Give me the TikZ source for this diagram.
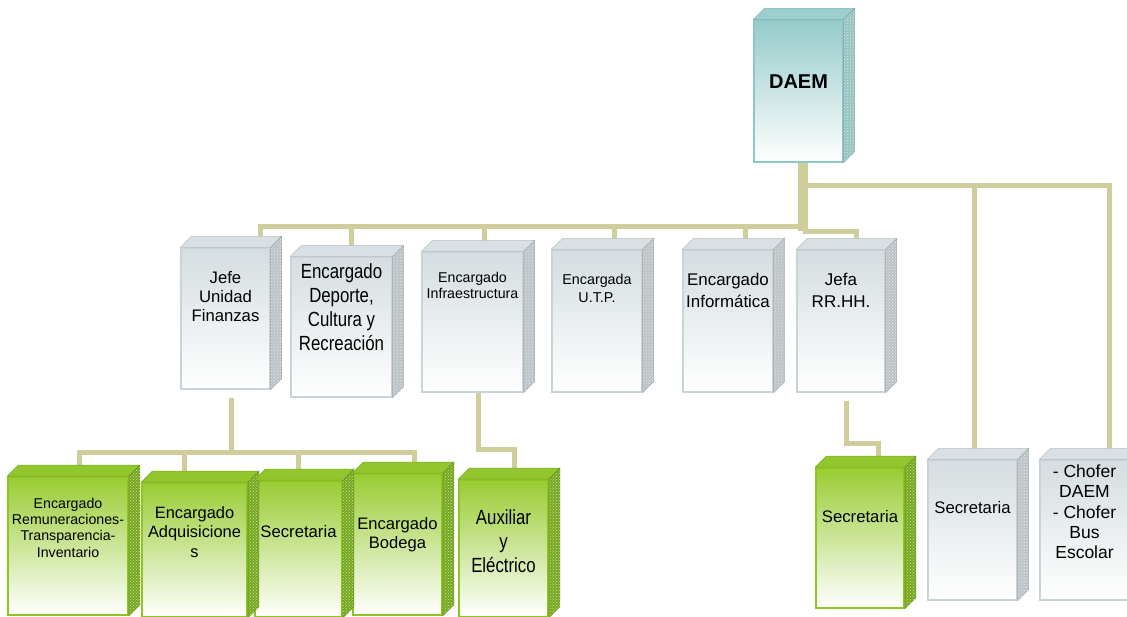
\documentclass[tikz,border=0pt]{standalone}
\usepackage{fontspec}
\setmainfont{Liberation Sans}
\newfontfamily\narrowfont[FakeStretch=0.82]{Liberation Sans}
\usepackage{xcolor}
\usepackage{tikz}
\usetikzlibrary{patterns,backgrounds}

\definecolor{caqui}{RGB}{207,205,155}
\definecolor{grisF}{RGB}{212,221,224}
\definecolor{grisB}{RGB}{200,212,216}
\definecolor{grisT}{RGB}{216,224,227}
\definecolor{grisS}{RGB}{188,195,198}
\definecolor{verdeF}{RGB}{153,204,51}
\definecolor{verdeB}{RGB}{140,198,30}
\definecolor{verdeT}{RGB}{145,198,45}
\definecolor{verdeS}{RGB}{118,168,30}
\definecolor{tealF}{RGB}{148,203,201}
\definecolor{tealB}{RGB}{140,200,200}
\definecolor{tealT}{RGB}{155,208,206}
\definecolor{tealS}{RGB}{150,196,194}

\newcommand{\fsz}[2]{\fontsize{#1}{#2}\selectfont}

\begin{document}
\begin{tikzpicture}[x=1pt,y=-1pt,
		cargo/.style={rectangle, inner sep=0pt, line width=1.2pt},
		cargo gris/.style={cargo, draw=grisB, top color=grisF, bottom color=white},
		cargo verde/.style={cargo, draw=verdeB, line width=1.6pt, top color=verdeF, bottom color=white, middle color=verdeF!50!white},
		cargo jefe/.style={cargo, draw=tealB, top color=tealF, bottom color=white},
		tapa/.style={fill=#1, draw=#1!85!black, line width=0.5pt},
		lado/.style={fill=#1, draw=#1!85!black, line width=0.5pt, postaction={pattern=crosshatch dots, pattern color=#1!35!white}},
		rotulo/.style={align=center, inner sep=0pt, anchor=center},
		enlace/.style={draw=caqui, line width=5pt}]
		\useasboundingbox (0,0) rectangle (1127,616);
		%
		\node[cargo jefe, minimum width=89pt, minimum height=142pt, label={[rotulo, yshift=-62.5pt, font=\bfseries\fsz{20}{24}]north:DAEM}] (daem) at (798.5,91) {};
		%
		\node[cargo gris, minimum width=89pt, minimum height=141pt, label={[rotulo, yshift=-49.5pt, font=\fsz{16.7}{19}]north:{Jefe\\Unidad\\Finanzas}}] (fin) at (225.5,318.5) {};
		\node[cargo gris, minimum width=101pt, minimum height=140pt, label={[rotulo, yshift=-50.5pt, font=\narrowfont\fsz{20.5}{24}]north:{Encargado\\Deporte,\\Cultura y\\Recreación}}] (dep) at (341.5,327) {};
		\node[cargo gris, minimum width=101pt, minimum height=140pt, label={[rotulo, yshift=-34pt, font=\fsz{14.2}{16}]north:{Encargado\\Infraestructura}}] (inf) at (472.5,322) {};
		\node[cargo gris, minimum width=90pt, minimum height=142pt, label={[rotulo, yshift=-39pt, font=\fsz{14.3}{18}]north:{Encargada\\U.T.P.}}] (utp) at (597,321) {};
		\node[cargo gris, minimum width=90pt, minimum height=142pt, label={[rotulo, yshift=-41pt, font=\fsz{16.9}{21.5}]north:{Encargado\\Informática}}] (inform) at (728,321) {};
		\node[cargo gris, minimum width=88pt, minimum height=142pt, label={[rotulo, yshift=-41pt, font=\fsz{17}{21.5}]north:{Jefa\\RR.HH.}}] (jefa) at (841,321) {};
		%
		\node[cargo verde, minimum width=120pt, minimum height=138pt, label={[rotulo, yshift=-51.5pt, font=\fsz{14.2}{16.3}]north:{Encargado\\Remuneraciones-\\Transparencia-\\Inventario}}] (rem) at (68,546) {};
		\node[cargo verde, minimum width=105pt, minimum height=134pt, label={[rotulo, yshift=-49.5pt, font=\fsz{16.4}{19.5}]north:{Encargado\\Adquisicione\\s}}] (adq) at (194.5,550) {};
		\node[cargo verde, minimum width=87pt, minimum height=136pt, label={[rotulo, yshift=-51pt, font=\fsz{16.7}{19}]north:Secretaria}] (sec1) at (298.5,549) {};
		\node[cargo verde, minimum width=89pt, minimum height=141pt, label={[rotulo, yshift=-61.7pt, font=\fsz{16.6}{18.5}]north:{Encargado\\Bodega}}] (bod) at (397.5,544.5) {};
		\node[cargo verde, minimum width=89pt, minimum height=137pt, label={[rotulo, yshift=-62pt, font=\narrowfont\fsz{20.5}{24}]north:{Auxiliar\\y\\Eléctrico}}] (aux) at (503.5,548.5) {};
		\node[cargo verde, minimum width=88pt, minimum height=140pt, label={[rotulo, yshift=-49pt, font=\fsz{16.7}{19}]north:Secretaria}] (sec2) at (860,538) {};
		%
		\node[cargo gris, minimum width=89pt, minimum height=140pt, label={[rotulo, yshift=-48pt, font=\fsz{16.7}{19}]north:Secretaria}] (sec3) at (972.5,530) {};
		\node[cargo gris, minimum width=89pt, minimum height=140pt, label={[rotulo, yshift=-52.5pt, font=\fsz{17.5}{20.3}]north:{- Chofer\\DAEM\\- Chofer\\Bus\\Escolar}}] (chof) at (1084.5,530) {};
		%
		\foreach \n/\c in {daem/teal, fin/gris, dep/gris, inf/gris, utp/gris, inform/gris, jefa/gris, sec3/gris, chof/gris, rem/verde, adq/verde, sec1/verde, bod/verde, aux/verde, sec2/verde}
		{
			\draw[tapa=\c T] (\n.north west) -- ++(11,-11) -- ([shift={(11,-11)}]\n.north east) -- (\n.north east) -- cycle;
			\draw[lado=\c S] (\n.north east) -- ++(11,-11) -- ([shift={(11,-11)}]\n.south east) -- (\n.south east) -- cycle;
		}
		%
		\begin{scope}[on background layer]
			\fill[white] (0,0) rectangle (1127,616);
			\coordinate (n1) at (0,185);
			\coordinate (n2) at (0,226);
			\coordinate (n2b) at (0,231);
			\coordinate (n3) at (0,452);
			%
			\draw[enlace, line width=10pt] ([xshift=4pt]daem.south) -- ([xshift=4pt]daem.south |- n2b);
			\draw[enlace] ([xshift=4pt]daem.south |- n1) -| ([xshift=25pt]chof.north);
			\draw[enlace] ([xshift=1.5pt]sec3.north |- n1) -- ([xshift=1.5pt]sec3.north);
			\draw[enlace] ([xshift=35pt]fin.north) |- ([xshift=4pt]daem.south |- n2);
			\foreach \n/\dx in {dep/10, inf/12, utp/17, inform/17}
				\draw[enlace] ([xshift=\dx]\n.north) -- ([xshift=\dx]\n.north |- n2);
			\draw[enlace] ([xshift=4pt]daem.south |- n2b) -| ([xshift=15pt]jefa.north);
			%
			\draw[enlace] ([xshift=5.5pt,yshift=-8pt]fin.south) -- ([xshift=5.5pt]fin.south |- n3);
			\draw[enlace] ([xshift=11pt]rem.north) |- ([xshift=16.5pt]bod.north |- n3) -- ([xshift=16.5pt]bod.north);
			\foreach \n/\dx in {adq/-10.5, sec1/0}
				\draw[enlace] ([xshift=\dx]\n.north) -- ([xshift=\dx]\n.north |- n3);
			\draw[enlace] ([xshift=5.5pt]inf.south) -- ++(0,57) -| ([xshift=10.5pt]aux.north);
			\draw[enlace] ([xshift=5pt,yshift=-8pt]jefa.south) -- ++(0,43) -| ([xshift=18pt]sec2.north);
		\end{scope}
	\end{tikzpicture}
\end{document}
